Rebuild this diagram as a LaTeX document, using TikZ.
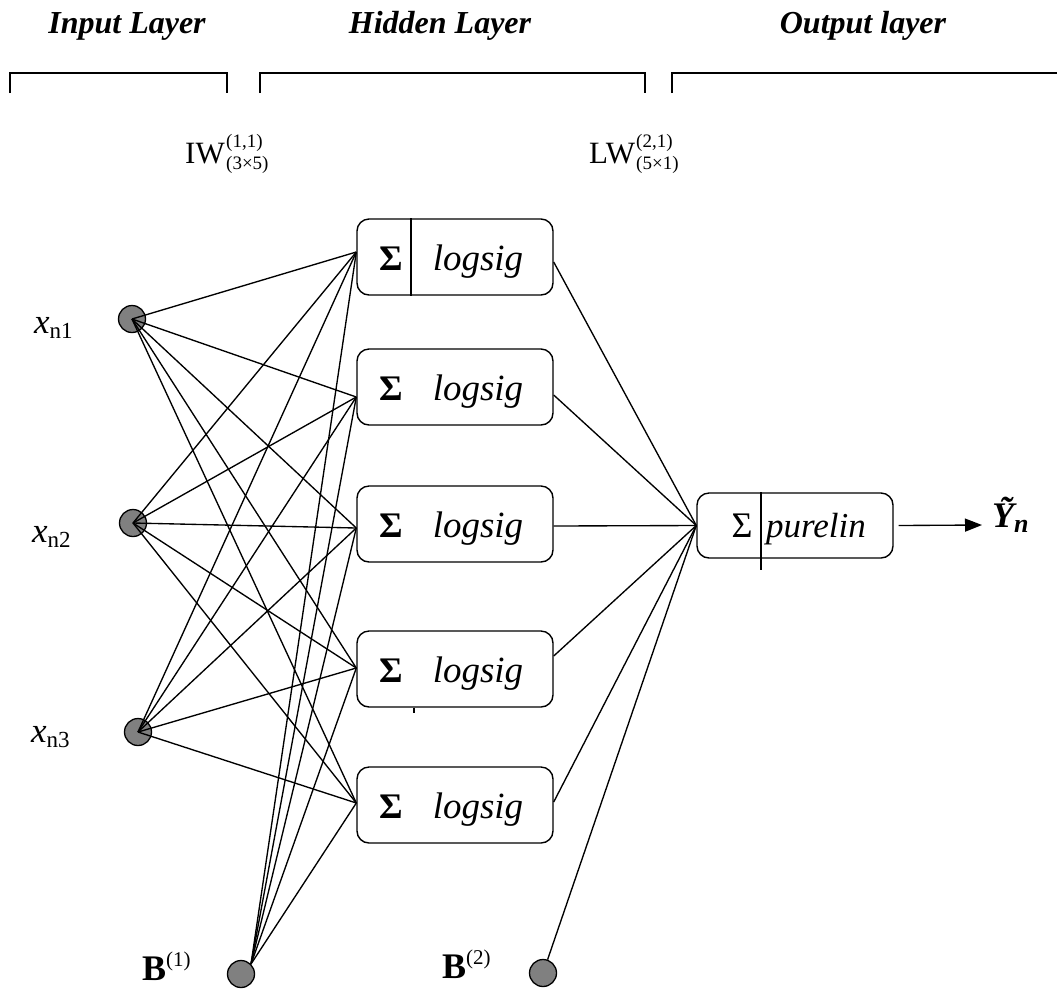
\documentclass[tikz,border=0pt]{standalone}
\usepackage{fontspec}
\setmainfont{Liberation Serif}
\usetikzlibrary{arrows.meta}
\definecolor{cellgray}{RGB}{128,128,128}

\begin{document}
\begin{tikzpicture}[x=1pt,y=-1pt,
  wire/.style={line width=1.35pt},
  bracketline/.style={line width=2.4pt},
  unit/.style={draw, line width=1.4pt, rounded corners=12pt, minimum width=196pt, minimum height=76pt, inner sep=0pt},
  outunit/.style={unit, minimum height=65pt},
  neuron/.style={circle, draw, line width=1.3pt, fill=cellgray, minimum size=27pt, inner sep=0pt},
  txt/.style={inner sep=0pt, anchor=base},
  title/.style={txt, font=\fontsize{32}{36}\selectfont\bfseries\itshape},
  sigmab/.style={txt, font=\fontsize{36}{40}\selectfont\bfseries},
  func/.style={txt, font=\fontsize{37}{40}\selectfont\itshape},
  wlabel/.style={inner sep=0pt, anchor=base west, font=\fontsize{31}{32}\selectfont},
  idx/.style={inner sep=0pt, anchor=base west, font=\fontsize{19}{20}\selectfont},
  xlabel/.style={inner sep=0pt, anchor=base west},
]
\useasboundingbox (0,0) rectangle (1057,989);

% layer titles and brackets
\node[title] (tin)  at (127,33) {Input Layer};
\node[title] (thid) at (440,33) {Hidden Layer};
\node[title] (tout) at (863,33) {Output layer};
\draw[bracketline] (10,93) -- (10,73) -- (227,73) -- (227,93);
\draw[bracketline] (260,93) -- (260,73) -- (645,73) -- (645,93);
\draw[bracketline] (672,93) -- (672,73) -- (1057,73);

% weight matrix labels
\node[wlabel] (iw) at (185,163) {IW};
\node[idx] (iwsup) at (226,147) {(1,1)};
\node[idx] (iwsub) at (226,169) {(3×5)};
\node[wlabel] (lw) at (589,163) {LW};
\node[idx] (lwsup) at (636,147) {(2,1)};
\node[idx] (lwsub) at (636,169) {(5×1)};

% input and bias neurons
\node[neuron] (x1) at (132,319) {};
\node[neuron] (x2) at (133,523) {};
\node[neuron] (x3) at (138,732) {};
\node[neuron] (b1) at (241,974) {};
\node[neuron] (b2) at (543,973) {};

\node[xlabel] (lx1) at (34,333) {\fontsize{35}{35}\selectfont\itshape x\upshape\fontsize{23}{23}\selectfont\raisebox{-5pt}{n1}};
\node[xlabel] (lx2) at (32,542) {\fontsize{35}{35}\selectfont\itshape x\upshape\fontsize{23}{23}\selectfont\raisebox{-5pt}{n2}};
\node[xlabel] (lx3) at (31,742) {\fontsize{35}{35}\selectfont\itshape x\upshape\fontsize{23}{23}\selectfont\raisebox{-5pt}{n3}};
\node[xlabel] (lb1) at (142,980) {\fontsize{36}{36}\selectfont\bfseries B\mdseries\fontsize{21}{21}\selectfont\raisebox{14pt}{(1)}};
\node[xlabel] (lb2) at (442,978) {\fontsize{36}{36}\selectfont\bfseries B\mdseries\fontsize{21}{21}\selectfont\raisebox{14pt}{(2)}};

% hidden units
\foreach \i/\y in {1/257,2/387,3/524,4/669,5/805}{
  \node[unit] (h\i) at (455,\y) {};
  \node[sigmab] (h\i s) at (391,\y+13) {Σ};
  \node[func] (h\i f) at (478,\y+13) {logsig};
}
\draw[line width=1.3pt] ([xshift=-44pt]h1.north) -- ([xshift=-44pt]h1.south);
\draw[line width=1.3pt] ([xshift=-41pt]h4.south) -- ++(0,5);

% output unit
\node[outunit] (o) at (795,525.5) {};
\node[txt, font=\fontsize{36}{38}\selectfont] (os) at (742,537) {Σ};
\node[txt, font=\fontsize{35}{38}\selectfont\itshape] (of) at (816,537) {purelin};
\draw[line width=1.3pt] ([xshift=-34pt]o.north) -- ([xshift=-34pt,yshift=-11pt]o.south);

\node[txt, anchor=base west, font=\fontsize{36}{38}\selectfont\bfseries\itshape] (yt) at (992,527) {Ỹ\raisebox{-5pt}{\fontsize{26}{26}\selectfont n}};

% connection ports on the units
\coordinate (h1i) at ([yshift=5pt]h1.west);
\coordinate (h2i) at ([yshift=-10pt]h2.west);
\coordinate (h3i) at ([yshift=-4pt]h3.west);
\coordinate (h4i) at ([yshift=1pt]h4.west);
\coordinate (h5i) at ([yshift=2pt]h5.west);
\coordinate (h1o) at ([yshift=-5pt]h1.east);
\coordinate (h2o) at ([yshift=-8pt]h2.east);
\coordinate (h3o) at ([yshift=-2pt]h3.east);
\coordinate (h4o) at ([yshift=13pt]h4.east);
\coordinate (h5o) at ([yshift=3pt]h5.east);
\coordinate (tip) at (982,525);

% input layer to hidden layer
\foreach \s in {x1,x2,x3}{
  \foreach \t in {1,...,5}{
    \draw[wire] (\s.center) -- (h\t i);
  }
}
\foreach \t in {1,...,5}{
  \draw[wire] (b1.north east) -- (h\t i);
}

% hidden layer to output
\foreach \t in {1,...,5}{
  \draw[wire] (h\t o) -- (o.west);
}
\draw[wire] (b2) -- (o.west);
\draw[wire, -{Triangle[length=17pt,width=13pt]}] ([xshift=5pt]o.east) -- (tip);

\end{tikzpicture}
\end{document}
